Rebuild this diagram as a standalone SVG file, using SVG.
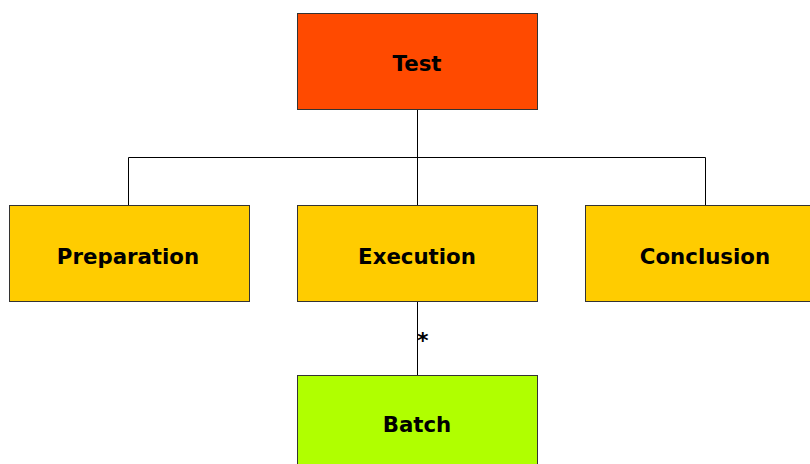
<svg xmlns="http://www.w3.org/2000/svg" width="810" height="464" viewBox="0 0 810 464">
<style>
.box{stroke:#333;stroke-width:1}
.lbl{font-family:"DejaVu Sans",Verdana,sans-serif;font-weight:bold;font-size:21.3px;text-anchor:middle;fill:#000}
.ln{stroke:#000;stroke-width:1;fill:none}
</style>
<rect width="810" height="464" fill="#fff"/>
<g id="connectors">
<path class="ln" d="M417.5 109V157.5M128.5 205V157.5H705.5V205M417.5 157.5V205"/>
<path class="ln" d="M417.5 301V375"/>
<text x="417" y="348" style="font-family:'DejaVu Sans',Verdana,sans-serif;font-weight:bold;font-size:22px">*</text>
</g>
<g id="test"><rect class="box" x="297.5" y="13.5" width="240" height="96" fill="#FF4A00"/><text class="lbl" x="417" y="71">Test</text></g>
<g id="preparation"><rect class="box" x="9.5" y="205.5" width="240" height="96" fill="#FFCC00"/><text class="lbl" x="128" y="264">Preparation</text></g>
<g id="execution"><rect class="box" x="297.5" y="205.5" width="240" height="96" fill="#FFCC00"/><text class="lbl" x="417" y="264">Execution</text></g>
<g id="conclusion"><rect class="box" x="585.5" y="205.5" width="240" height="96" fill="#FFCC00"/><text class="lbl" x="705" y="264">Conclusion</text></g>
<g id="batch"><rect class="box" x="297.5" y="375.5" width="240" height="96" fill="#B0FF00"/><text class="lbl" x="417" y="432">Batch</text></g>
</svg>
